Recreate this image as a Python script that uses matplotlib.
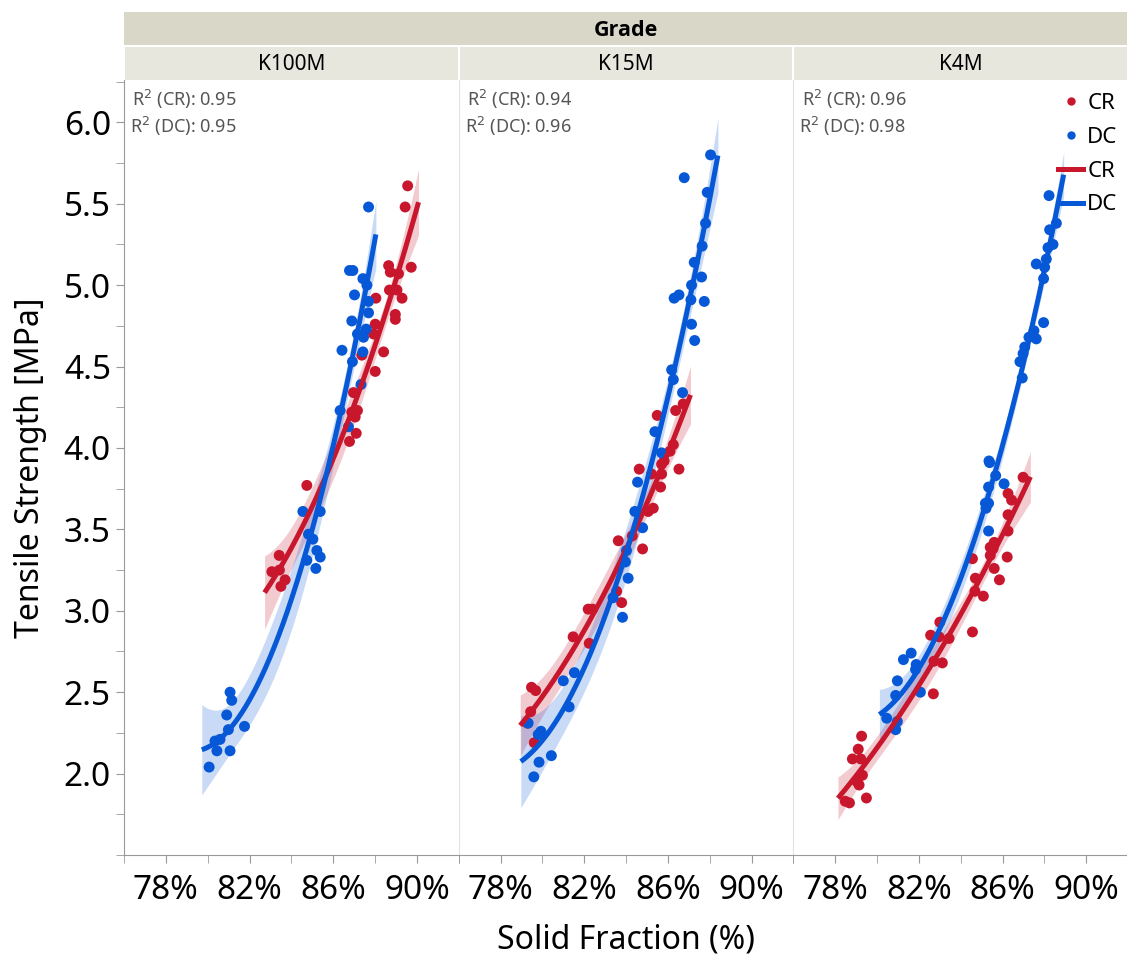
import numpy as np
import matplotlib
matplotlib.use("Agg")
import matplotlib.pyplot as plt
from matplotlib.lines import Line2D
from matplotlib.ticker import MultipleLocator, FixedLocator

plt.rcParams['font.family'] = ['Noto Sans', 'DejaVu Sans']

# ---- data ----
grades = ["K100M", "K15M", "K4M"]
r2_cr = ["0.95", "0.94", "0.96"]
r2_dc = ["0.95", "0.96", "0.98"]

k100m_cr_x = [89.56, 89.44, 88.65, 89.73, 88.73, 89.12, 88.69, 89.05, 89.29, 88.04, 88.97, 88.97, 88.01,
              87.93, 87.37, 88.41, 88.01, 86.97, 87.16, 86.89, 87.05, 87.10, 86.78, 84.74, 83.42, 83.07,
              83.43, 83.70, 83.50]
k100m_cr_y = [5.61, 5.48, 5.12, 5.11, 5.08, 5.07, 4.97, 4.97, 4.92, 4.92, 4.82, 4.79, 4.76,
              4.70, 4.57, 4.59, 4.47, 4.34, 4.23, 4.22, 4.19, 4.09, 4.04, 3.77, 3.34, 3.24,
              3.25, 3.19, 3.15]
k100m_dc_x = [87.69, 86.78, 86.94, 87.42, 87.61, 87.02, 87.69, 87.69, 86.89, 87.58, 87.16, 87.45, 86.42,
              87.42, 86.92, 87.33, 86.33, 86.73, 84.55, 85.38, 84.82, 85.03, 85.22, 85.38, 84.74, 85.17,
              81.07, 81.15, 80.91, 81.76, 80.99, 80.35, 80.59, 80.44, 81.07, 80.07]
k100m_dc_y = [5.48, 5.09, 5.09, 5.04, 5.00, 4.94, 4.90, 4.83, 4.78, 4.73, 4.70, 4.68, 4.60,
              4.59, 4.53, 4.39, 4.23, 4.13, 3.61, 3.61, 3.47, 3.44, 3.37, 3.33, 3.31, 3.26,
              2.50, 2.45, 2.36, 2.29, 2.27, 2.20, 2.21, 2.14, 2.14, 2.04]

k15m_cr_x = [86.73, 86.37, 85.49, 86.26, 86.10, 85.82, 85.70, 84.63, 86.53, 85.22, 85.70, 85.65, 85.30,
             85.06, 84.30, 83.63, 84.79, 83.55, 83.79, 82.19, 82.40, 81.47, 82.24, 79.48, 79.68, 79.44,
             79.29, 79.61]
k15m_cr_y = [4.27, 4.23, 4.20, 4.02, 3.98, 3.92, 3.90, 3.87, 3.87, 3.84, 3.84, 3.76, 3.63,
             3.61, 3.46, 3.43, 3.38, 3.12, 3.05, 3.01, 3.01, 2.84, 2.80, 2.53, 2.51, 2.38,
             2.31, 2.19]
k15m_dc_x = [88.04, 86.78, 87.88, 87.80, 87.64, 87.26, 87.61, 87.13, 86.30, 86.53, 87.10, 87.74, 87.13,
             87.28, 86.18, 86.26, 86.70, 85.38, 85.70, 84.55, 84.42, 84.79, 84.02, 83.97, 84.10, 83.38,
             83.83, 81.00, 81.53, 81.28, 79.32, 79.93, 79.80, 80.43, 79.84, 79.59]
k15m_dc_y = [5.80, 5.66, 5.57, 5.38, 5.24, 5.14, 5.05, 5.00, 4.92, 4.94, 4.91, 4.90, 4.76,
             4.66, 4.48, 4.42, 4.34, 4.10, 3.97, 3.79, 3.61, 3.51, 3.37, 3.30, 3.20, 3.08,
             2.96, 2.57, 2.62, 2.41, 2.31, 2.26, 2.24, 2.11, 2.07, 1.98]

k4m_cr_x = [86.98, 86.26, 86.43, 86.26, 86.26, 85.60, 85.41, 85.54, 85.41, 86.22, 84.56, 85.60, 85.85,
            84.70, 84.68, 85.08, 84.56, 83.00, 82.56, 82.96, 83.44, 82.72, 83.12, 82.69, 79.26, 79.10,
            78.82, 79.22, 79.30, 79.04, 79.14, 79.49, 78.48, 78.68]
k4m_cr_y = [3.82, 3.72, 3.68, 3.59, 3.49, 3.42, 3.39, 3.38, 3.34, 3.33, 3.32, 3.26, 3.19,
            3.20, 3.12, 3.09, 2.87, 2.93, 2.85, 2.84, 2.83, 2.69, 2.68, 2.49, 2.23, 2.15,
            2.09, 2.09, 1.99, 1.95, 1.93, 1.85, 1.83, 1.82]
k4m_dc_x = [88.22, 88.57, 88.25, 88.41, 88.17, 88.09, 87.61, 88.01, 87.96, 87.96, 87.50, 87.26, 87.61,
            87.06, 86.98, 86.83, 86.94, 85.38, 85.35, 85.67, 86.07, 85.33, 85.18, 85.33, 85.21, 85.33,
            81.63, 81.26, 81.87, 81.84, 80.97, 80.89, 82.07, 80.46, 80.97, 80.89]
k4m_dc_y = [5.55, 5.38, 5.34, 5.25, 5.23, 5.16, 5.13, 5.11, 5.04, 4.77, 4.72, 4.68, 4.67,
            4.62, 4.58, 4.53, 4.43, 3.91, 3.92, 3.83, 3.78, 3.76, 3.66, 3.66, 3.63, 3.49,
            2.74, 2.70, 2.67, 2.64, 2.57, 2.48, 2.50, 2.34, 2.32, 2.27]

y_ticks = [2.0, 2.5, 3.0, 3.5, 4.0, 4.5, 5.0, 5.5, 6.0]
x_ticks = [78, 82, 86, 90]
x_tick_labels = ["78%", "82%", "86%", "90%"]

panel_data = [
    (k100m_cr_x, k100m_cr_y, k100m_dc_x, k100m_dc_y),
    (k15m_cr_x, k15m_cr_y, k15m_dc_x, k15m_dc_y),
    (k4m_cr_x, k4m_cr_y, k4m_dc_x, k4m_dc_y),
]

RED = "#c8162d"
BLUE = "#0658d6"


# Quadratic fit with 95% confidence band of the mean.
def quad_fit(x, y, pad=0.35):
    x = np.asarray(x)
    y = np.asarray(y)
    xc = x.mean()
    X = np.vander(x - xc, 3)
    beta = np.linalg.lstsq(X, y, rcond=None)[0]
    resid = y - X @ beta
    s2 = resid @ resid / (len(x) - 3)
    cov = s2 * np.linalg.inv(X.T @ X)
    xs = np.linspace(x.min() - pad, x.max() + pad, 200)
    Xs = np.vander(xs - xc, 3)
    yhat = Xs @ beta
    se = np.sqrt(np.sum((Xs @ cov) * Xs, axis=1))
    return xs, yhat, 2.03 * se


fig = plt.figure(figsize=(11.27, 9.55), dpi=100)
W, H = 1127.0, 955.0
left_px, top_px, bot_px, pw = 124, 80, 855, 334.7

axes = []
for i in range(3):
    ax = fig.add_axes([(left_px + i * pw) / W, 1 - bot_px / H, pw / W, (bot_px - top_px) / H])
    axes.append(ax)

for i, ax in enumerate(axes):
    cr_x, cr_y, dc_x, dc_y = panel_data[i]
    for xx, yy, col in [(cr_x, cr_y, RED), (dc_x, dc_y, BLUE)]:
        ax.scatter(xx, yy, s=62, color=col, edgecolors='none', zorder=3)
    for xx, yy, col in [(cr_x, cr_y, RED), (dc_x, dc_y, BLUE)]:
        xs, yhat, ci = quad_fit(xx, yy)
        ax.fill_between(xs, yhat - ci, yhat + ci, color=col, alpha=0.22, linewidth=0, zorder=2)
        ax.plot(xs, yhat, color=col, linewidth=3.6, zorder=4, solid_capstyle='butt')

    ax.set_xlim(76, 92)
    ax.set_ylim(1.5, 6.26)
    ax.xaxis.set_major_locator(FixedLocator(x_ticks))
    ax.xaxis.set_minor_locator(FixedLocator([76, 80, 84, 88, 92]))
    ax.set_xticklabels(x_tick_labels)
    ax.tick_params(axis='x', which='both', length=6, color='#999999', labelsize=24, pad=8)
    ax.yaxis.set_major_locator(FixedLocator(y_ticks))
    ax.yaxis.set_minor_locator(MultipleLocator(0.25))
    ax.tick_params(axis='y', which='both', length=6, color='#999999', labelsize=24)
    ax.yaxis.set_major_formatter(matplotlib.ticker.FormatStrFormatter('%.1f'))

    for s in ['top', 'right']:
        ax.spines[s].set_visible(False)
    ax.spines['bottom'].set_color('#999999')
    if i == 0:
        ax.spines['left'].set_color('#999999')
    else:
        ax.spines['left'].set_color('#e2e2e2')
        ax.tick_params(axis='y', which='both', left=False, labelleft=False)

    ax.text(0.025, 0.99, "R$^2$ (CR): " + r2_cr[i], transform=ax.transAxes, fontsize=13,
            color='#555555', va='top', ha='left')
    ax.text(0.018, 0.955, "R$^2$ (DC): " + r2_dc[i], transform=ax.transAxes, fontsize=13,
            color='#555555', va='top', ha='left')

axes[0].set_ylabel("Tensile Strength [MPa]", fontsize=23, labelpad=12)
fig.text((left_px + 1.5 * pw) / W, -0.002, "Solid Fraction (%)", fontsize=23, ha='center', va='bottom')

# legend in last panel
handles = [
    Line2D([], [], marker='o', linestyle='none', color=RED, markersize=5),
    Line2D([], [], marker='o', linestyle='none', color=BLUE, markersize=5),
    Line2D([], [], color=RED, linewidth=3.6),
    Line2D([], [], color=BLUE, linewidth=3.6),
]
axes[2].legend(handles, ["CR", "DC", "CR", "DC"], loc='upper right', frameon=False, fontsize=16,
               handlelength=1.1, handletextpad=0.2, labelspacing=0.58, borderaxespad=0.0,
               bbox_to_anchor=(0.995, 0.995))

# header strips
grade_ax = fig.add_axes([left_px / W, 1 - 45 / H, 3 * pw / W, 33 / H])
grade_ax.set_facecolor('#d9d7c8')
grade_ax.text(0.5, 0.45, "Grade", ha='center', va='center', fontsize=15.5, fontweight='bold',
              family=['Open Sans', 'DejaVu Sans'])
grade_ax.set_xticks([])
grade_ax.set_yticks([])
for s in grade_ax.spines.values():
    s.set_visible(False)

for i, g in enumerate(grades):
    sax = fig.add_axes([(left_px + i * pw + 1) / W, 1 - top_px / H, (pw - 2) / W, 33 / H])
    sax.set_facecolor('#e8e7de')
    sax.text(0.5, 0.48, g, ha='center', va='center', fontsize=15)
    sax.set_xticks([])
    sax.set_yticks([])
    for s in sax.spines.values():
        s.set_visible(False)

fig.savefig("out.png", dpi=100)
